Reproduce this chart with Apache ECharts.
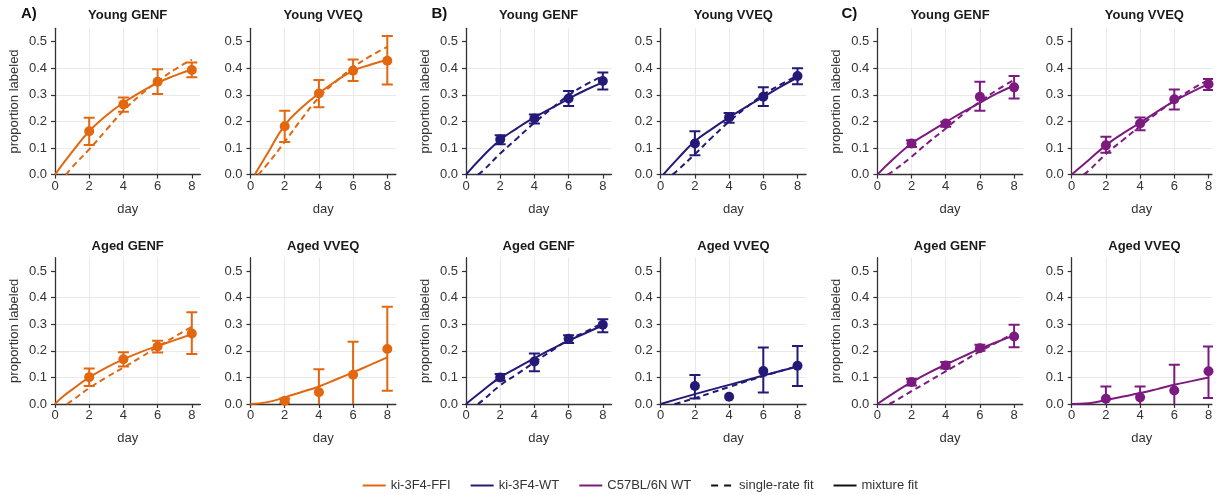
<!DOCTYPE html>
<html>
<head>
<meta charset="utf-8">
<script src="https://cdn.jsdelivr.net/npm/echarts@6/dist/echarts.min.js"></script>
<style>
  html, body { margin: 0; padding: 0; background: #ffffff; }
  #chart { width: 1225px; height: 495px; }
</style>
</head>
<body>
<div id="chart"></div>
<script>
// Sampling days and axis ticks
const days = [2, 4, 6, 8];
const xTicks = [0, 2, 4, 6, 8];
const yTicks = [0, 0.1, 0.2, 0.3, 0.4, 0.5];

const strains = ['ki-3F4-FFI', 'ki-3F4-WT', 'C57BL/6N WT'];
const strainColors = ['#E2670F', '#231A78', '#7C1A80'];
const groupLabels = ['A)', 'B)', 'C)'];
const panelTitles = ['Young GENF', 'Young VVEQ', 'Aged GENF', 'Aged VVEQ'];
const fitNames = ['single-rate fit', 'mixture fit'];

// Observed proportion labeled per day: [mean, lower, upper]
const ffiYoungGenfObs = [[0.163, 0.111, 0.214], [0.264, 0.236, 0.290], [0.349, 0.303, 0.396], [0.393, 0.366, 0.421]];
const ffiYoungVveqObs = [[0.182, 0.123, 0.240], [0.305, 0.253, 0.356], [0.391, 0.352, 0.433], [0.428, 0.339, 0.521]];
const ffiAgedGenfObs = [[0.101, 0.068, 0.133], [0.168, 0.141, 0.195], [0.216, 0.194, 0.238], [0.265, 0.188, 0.345]];
const ffiAgedVveqObs = [[0.012, 0.003, 0.021], [0.044, -0.043, 0.131], [0.110, -0.014, 0.234], [0.207, 0.050, 0.366]];

const wtYoungGenfObs = [[0.132, 0.114, 0.148], [0.211, 0.192, 0.226], [0.286, 0.258, 0.314], [0.352, 0.320, 0.384]];
const wtYoungVveqObs = [[0.117, 0.073, 0.163], [0.215, 0.195, 0.232], [0.293, 0.258, 0.328], [0.371, 0.340, 0.400]];
const wtAgedGenfObs = [[0.100, 0.088, 0.113], [0.160, 0.123, 0.190], [0.245, 0.229, 0.258], [0.298, 0.270, 0.319]];
const wtAgedVveqObs = [[0.068, 0.021, 0.109], [0.027, null, null], [0.124, 0.043, 0.212], [0.144, 0.068, 0.218]];

const b6YoungGenfObs = [[0.117, 0.104, 0.129], [0.192, 0.180, 0.199], [0.293, 0.240, 0.349], [0.328, 0.286, 0.371]];
const b6YoungVveqObs = [[0.110, 0.082, 0.142], [0.192, 0.167, 0.215], [0.283, 0.245, 0.320], [0.340, 0.318, 0.359]];
const b6AgedGenfObs = [[0.083, 0.070, 0.095], [0.145, 0.133, 0.158], [0.210, 0.200, 0.223], [0.254, 0.213, 0.298]];
const b6AgedVveqObs = [[0.020, -0.026, 0.066], [0.025, -0.016, 0.066], [0.051, -0.046, 0.148], [0.123, 0.023, 0.216]];

// Fitted curves as [day, proportion]
const ffiYoungGenfMixture = [[0, 0], [1, 0.085], [2, 0.163], [3, 0.222], [4, 0.270], [5, 0.310], [6, 0.345], [7, 0.372], [8, 0.395]];
const ffiYoungGenfSingle = [[0.65, 0], [1, 0.028], [2, 0.095], [3, 0.168], [4, 0.240], [5, 0.300], [6, 0.350], [7, 0.395], [8, 0.432]];
const ffiYoungVveqMixture = [[0.25, 0], [1, 0.080], [2, 0.185], [3, 0.252], [4, 0.305], [5, 0.352], [6, 0.390], [7, 0.413], [8, 0.432]];
const ffiYoungVveqSingle = [[0.45, 0], [1, 0.040], [2, 0.123], [3, 0.210], [4, 0.290], [5, 0.350], [6, 0.403], [7, 0.445], [8, 0.480]];
const ffiAgedGenfMixture = [[0, 0], [0.5, 0.030], [1, 0.054], [2, 0.100], [3, 0.137], [4, 0.168], [5, 0.195], [6, 0.218], [7, 0.240], [8, 0.262]];
const ffiAgedGenfSingle = [[0.7, 0], [1, 0.013], [2, 0.060], [3, 0.100], [4, 0.137], [5, 0.175], [6, 0.215], [7, 0.253], [8, 0.290]];
const ffiAgedVveqMixture = [[0, 0], [1, 0.007], [2, 0.025], [3, 0.045], [4, 0.066], [5, 0.092], [6, 0.119], [7, 0.147], [8, 0.175]];

const wtYoungGenfMixture = [[0, 0], [1, 0.070], [2, 0.130], [3, 0.175], [4, 0.215], [5, 0.250], [6, 0.285], [7, 0.318], [8, 0.347]];
const wtYoungGenfSingle = [[0.7, 0], [1, 0.015], [2, 0.079], [3, 0.137], [4, 0.195], [5, 0.248], [6, 0.298], [7, 0.338], [8, 0.370]];
const wtYoungVveqMixture = [[0.15, 0], [1, 0.060], [2, 0.125], [3, 0.172], [4, 0.215], [5, 0.255], [6, 0.292], [7, 0.330], [8, 0.365]];
const wtYoungVveqSingle = [[0.7, 0], [1, 0.017], [2, 0.077], [3, 0.140], [4, 0.199], [5, 0.252], [6, 0.300], [7, 0.338], [8, 0.372]];
const wtAgedGenfMixture = [[0, 0], [1, 0.052], [2, 0.100], [3, 0.137], [4, 0.172], [5, 0.206], [6, 0.238], [7, 0.267], [8, 0.295]];
const wtAgedGenfSingle = [[0.7, 0], [1, 0.015], [2, 0.070], [3, 0.113], [4, 0.157], [5, 0.200], [6, 0.241], [7, 0.272], [8, 0.304]];
const wtAgedVveqMixture = [[0, 0], [2, 0.037], [4, 0.072], [6, 0.107], [8, 0.141]];
const wtAgedVveqSingle = [[0.8, 0], [1, 0.003], [2, 0.022], [3, 0.043], [4, 0.064], [5, 0.085], [6, 0.105], [7, 0.124], [8, 0.142]];

const b6YoungGenfMixture = [[0, 0], [1, 0.062], [2, 0.117], [3, 0.158], [4, 0.197], [5, 0.235], [6, 0.270], [7, 0.305], [8, 0.335]];
const b6YoungGenfSingle = [[0.6, 0], [1, 0.017], [2, 0.067], [3, 0.122], [4, 0.173], [5, 0.226], [6, 0.274], [7, 0.318], [8, 0.356]];
const b6YoungVveqMixture = [[0, 0], [1, 0.055], [2, 0.110], [3, 0.155], [4, 0.195], [5, 0.237], [6, 0.276], [7, 0.310], [8, 0.340]];
const b6YoungVveqSingle = [[0.7, 0], [1, 0.015], [2, 0.077], [3, 0.130], [4, 0.182], [5, 0.232], [6, 0.278], [7, 0.320], [8, 0.356]];
const b6AgedGenfMixture = [[0, 0], [1, 0.043], [2, 0.082], [3, 0.117], [4, 0.148], [5, 0.178], [6, 0.207], [7, 0.233], [8, 0.258]];
const b6AgedGenfSingle = [[0.7, 0], [1, 0.010], [2, 0.048], [3, 0.085], [4, 0.123], [5, 0.160], [6, 0.198], [7, 0.232], [8, 0.266]];
const b6AgedVveqMixture = [[0, 0], [1, 0.003], [2, 0.015], [3, 0.028], [4, 0.041], [5, 0.056], [6, 0.072], [7, 0.086], [8, 0.100]];

// Panels per strain, in title order: [observed, mixture fit, single-rate fit]
const strainPanels = [
  [
    [ffiYoungGenfObs, ffiYoungGenfMixture, ffiYoungGenfSingle],
    [ffiYoungVveqObs, ffiYoungVveqMixture, ffiYoungVveqSingle],
    [ffiAgedGenfObs, ffiAgedGenfMixture, ffiAgedGenfSingle],
    [ffiAgedVveqObs, ffiAgedVveqMixture, null]
  ],
  [
    [wtYoungGenfObs, wtYoungGenfMixture, wtYoungGenfSingle],
    [wtYoungVveqObs, wtYoungVveqMixture, wtYoungVveqSingle],
    [wtAgedGenfObs, wtAgedGenfMixture, wtAgedGenfSingle],
    [wtAgedVveqObs, wtAgedVveqMixture, wtAgedVveqSingle]
  ],
  [
    [b6YoungGenfObs, b6YoungGenfMixture, b6YoungGenfSingle],
    [b6YoungVveqObs, b6YoungVveqMixture, b6YoungVveqSingle],
    [b6AgedGenfObs, b6AgedGenfMixture, b6AgedGenfSingle],
    [b6AgedVveqObs, b6AgedVveqMixture, null]
  ]
];

// Layout (pixels)
const colLeft = [55, 250.5, 466, 660.7, 877.3, 1071.7];
const colXMax = [8.5, 8.5, 8.5, 8.5, 8.5, 8.2];
const pxPerDay = 17.1;
const rowTop = [28.3, 257.7];
const rowHeight = 146.3;
const yMax = 0.55;

const FONT = "'Liberation Sans', Arial, Helvetica, sans-serif";
const TEXT = '#333333';
const AXIS = '#333333';
const GRIDLINE = '#e9e9e9';

function errorBarItem(params, api) {
  const x = api.value(0);
  const lo = api.coord([x, api.value(1)]);
  const hi = api.coord([x, api.value(2)]);
  const hw = 5.5;
  const style = { stroke: api.visual('color'), lineWidth: 2 };
  return {
    type: 'group',
    children: [
      { type: 'line', shape: { x1: lo[0], y1: lo[1], x2: hi[0], y2: hi[1] }, style },
      { type: 'line', shape: { x1: lo[0] - hw, y1: lo[1], x2: lo[0] + hw, y2: lo[1] }, style },
      { type: 'line', shape: { x1: hi[0] - hw, y1: hi[1], x2: hi[0] + hw, y2: hi[1] }, style }
    ]
  };
}

const grids = [], xAxes = [], yAxes = [], series = [], titles = [];

strainPanels.forEach((panels, g) => {
  const color = strainColors[g];
  panels.forEach((panel, p) => {
    const idx = g * 4 + p;
    const row = p < 2 ? 0 : 1;
    const col = g * 2 + (p % 2);
    const xMax = colXMax[col];
    const width = xMax * pxPerDay;
    const tag = strains[g] + ' / ' + panelTitles[p];
    grids.push({ left: colLeft[col], top: rowTop[row], width: width, height: rowHeight, containLabel: false });

    xAxes.push({
      type: 'value', gridIndex: idx, min: 0, max: xMax, interval: 2,
      name: 'day', nameLocation: 'middle', nameGap: 28,
      nameTextStyle: { fontFamily: FONT, fontSize: 13, color: TEXT },
      axisLine: { show: true, onZero: false, lineStyle: { color: AXIS, width: 1.3 } },
      axisTick: { show: true, length: 4, customValues: xTicks, lineStyle: { color: AXIS, width: 1.2 } },
      axisLabel: { show: true, margin: 5, customValues: xTicks, fontFamily: FONT, fontSize: 13, color: TEXT },
      splitLine: { show: true, showMinLine: true, showMaxLine: false, lineStyle: { color: GRIDLINE, width: 1 } }
    });

    const firstCol = (p % 2) === 0;
    yAxes.push({
      type: 'value', gridIndex: idx, min: 0, max: yMax, interval: 0.1,
      name: firstCol ? 'proportion labeled' : '', nameLocation: 'middle', nameGap: 34,
      nameTextStyle: { fontFamily: FONT, fontSize: 13, color: TEXT },
      axisLine: { show: true, onZero: false, lineStyle: { color: AXIS, width: 1.3 } },
      axisTick: { show: true, length: 4, customValues: yTicks, lineStyle: { color: AXIS, width: 1.2 } },
      axisLabel: {
        show: true, margin: 8, customValues: yTicks, fontFamily: FONT, fontSize: 13, color: TEXT,
        formatter: (v) => v.toFixed(1)
      },
      splitLine: { show: true, showMinLine: false, showMaxLine: false, lineStyle: { color: GRIDLINE, width: 1 } }
    });

    titles.push({
      text: panelTitles[p],
      left: colLeft[col] + (8.5 * pxPerDay) / 2,
      top: row === 0 ? 9 : 239.5,
      textAlign: 'center',
      padding: 0,
      textStyle: { fontFamily: FONT, fontSize: 13, fontWeight: 'bold', color: '#1a1a1a' }
    });

    const [obs, mixture, single] = panel;

    if (single) {
      series.push({
        type: 'line', name: tag + ' single-rate', xAxisIndex: idx, yAxisIndex: idx,
        data: single, showSymbol: false, symbol: 'none', smooth: 0.5, clip: true,
        lineStyle: { color: color, width: 2, type: [6, 4] }, itemStyle: { color: color },
        z: 2, silent: true
      });
    }
    series.push({
      type: 'line', name: tag + ' mixture', xAxisIndex: idx, yAxisIndex: idx,
      data: mixture, showSymbol: false, symbol: 'none', smooth: 0.5, clip: true,
      lineStyle: { color: color, width: 2, type: 'solid' }, itemStyle: { color: color },
      z: 3, silent: true
    });

    const bars = [];
    obs.forEach((o, i) => {
      if (o[1] !== null && o[2] !== null) bars.push([days[i], o[1], o[2]]);
    });
    series.push({
      type: 'custom', name: tag + ' interval', xAxisIndex: idx, yAxisIndex: idx,
      data: bars, renderItem: errorBarItem, clip: true,
      encode: { x: 0, y: [1, 2] },
      itemStyle: { color: color }, z: 4, silent: true
    });

    series.push({
      type: 'scatter', name: tag + ' mean', xAxisIndex: idx, yAxisIndex: idx,
      data: obs.map((o, i) => [days[i], o[0]]),
      symbol: 'circle', symbolSize: 10, clip: false,
      itemStyle: { color: color, opacity: 1 }, z: 5, silent: true
    });
  });
});

// Group labels
[21, 431.5, 841.5].forEach((x, g) => {
  titles.push({
    text: groupLabels[g], left: x, top: 6.5, padding: 0,
    textStyle: { fontFamily: FONT, fontSize: 15, fontWeight: 'bold', color: '#111111' }
  });
});

// Legend entries
strains.forEach((name, g) => {
  series.push({
    type: 'line', name: name, xAxisIndex: 0, yAxisIndex: 0, data: [], symbol: 'none',
    lineStyle: { color: strainColors[g], width: 2.5 }, itemStyle: { color: strainColors[g] }
  });
});
series.push({
  type: 'line', name: fitNames[0], xAxisIndex: 0, yAxisIndex: 0, data: [], symbol: 'none',
  lineStyle: { color: '#111111', width: 2.5, type: [7, 6] }, itemStyle: { color: '#111111' }
});
series.push({
  type: 'line', name: fitNames[1], xAxisIndex: 0, yAxisIndex: 0, data: [], symbol: 'none',
  lineStyle: { color: '#111111', width: 2.5 }, itemStyle: { color: '#111111' }
});

const chart = echarts.init(document.getElementById('chart'), null, { renderer: 'canvas' });
chart.setOption({
  animation: false,
  backgroundColor: '#ffffff',
  title: titles,
  grid: grids,
  xAxis: xAxes,
  yAxis: yAxes,
  legend: {
    data: strains.concat(fitNames),
    left: 361.7, top: 479, orient: 'horizontal',
    itemWidth: 23, itemHeight: 14, itemGap: 19, padding: 0,
    selectedMode: false,
    itemStyle: { opacity: 0 },
    textStyle: { fontFamily: FONT, fontSize: 13, color: TEXT }
  },
  series: series
});
</script>
</body>
</html>
